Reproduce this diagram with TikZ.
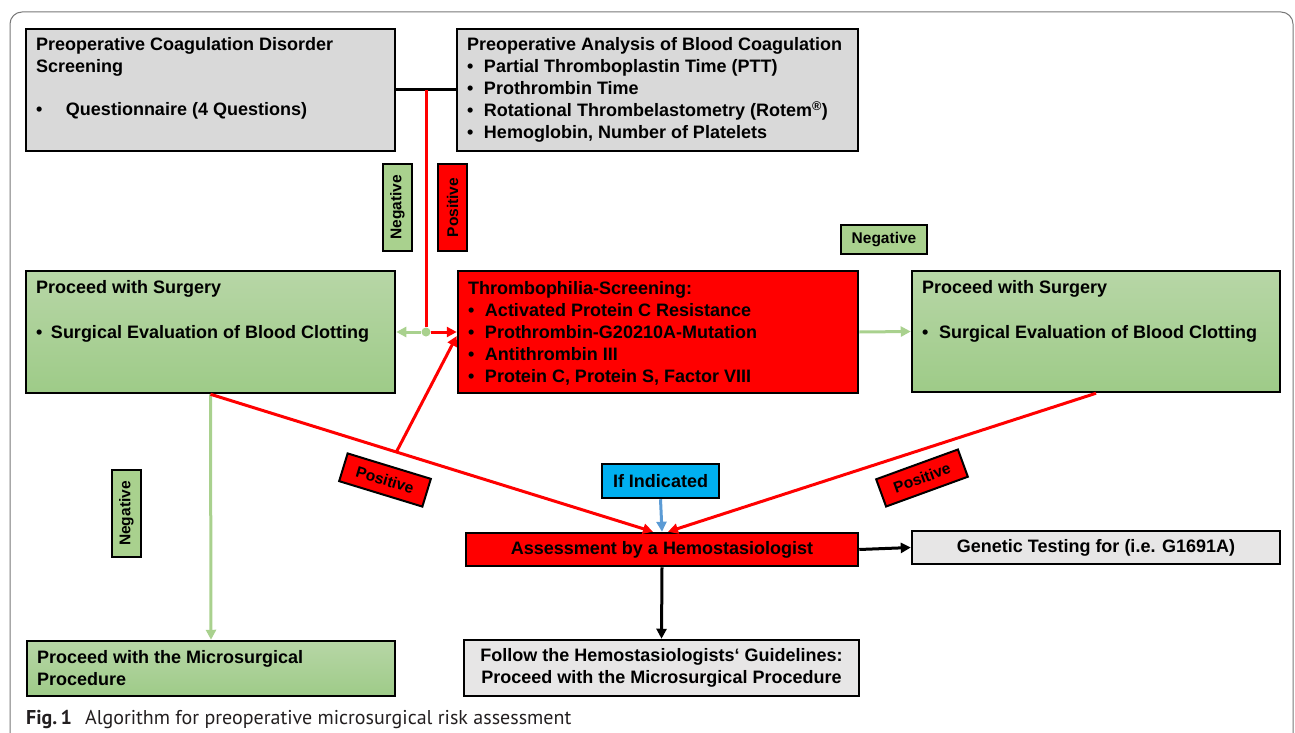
\documentclass[tikz,border=0pt]{standalone}
\usepackage{fontspec}
\setmainfont{Liberation Sans}
\newfontfamily\capfont{PT Sans}
\usetikzlibrary{arrows.meta,calc}
\definecolor{gbox}{RGB}{217,217,217}
\definecolor{lbox}{RGB}{231,230,230}
\definecolor{redA}{RGB}{255,0,0}
\definecolor{gtop}{RGB}{183,214,166}
\definecolor{gbot}{RGB}{158,203,136}
\definecolor{glab}{RGB}{169,209,142}
\definecolor{garr}{RGB}{169,209,142}
\definecolor{cyanA}{RGB}{0,176,240}
\definecolor{barr}{RGB}{91,155,213}
\definecolor{frameC}{RGB}{120,120,120}
\definecolor{capC}{RGB}{35,31,32}
\newcommand{\tb}[3]{\begin{minipage}[c][#2][t]{#1}\setlength{\leftskip}{10pt}\setlength{\parindent}{0pt}#3\end{minipage}}
\newcommand{\bl}[1]{\makebox[#1][l]{•}}
\tikzset{
  boxbase/.style={draw=black, line width=2.5pt, inner sep=0pt, font=\fontsize{18}{22}\selectfont\bfseries},
  graybox/.style={boxbase, fill=gbox},
  greenbox/.style={boxbase, top color=gtop, bottom color=gbot},
  redbox/.style={boxbase, fill=redA},
  lightbox/.style={boxbase, fill=lbox},
  labbase/.style={draw=black, line width=2pt, inner sep=0pt, minimum width=87pt, minimum height=29pt, font=\fontsize{15.5}{18}\selectfont\bfseries},
  neglab/.style={labbase, fill=glab},
  poslab/.style={labbase, fill=redA},
  tip/.style={-{Triangle[length=10pt,width=10pt]}},
  redl/.style={draw=redA, line width=3pt},
  grnl/.style={draw=garr, line width=3pt},
  blkl/.style={draw=black, line width=3pt},
  bluel/.style={draw=barr, line width=3pt},
}
\begin{document}
\begin{tikzpicture}[x=1pt,y=-1pt]
\useasboundingbox (0,0) rectangle (1295,733);
\draw[frameC, line width=1pt, rounded corners=12pt] (10,760) -- (10,12) -- (1293,12) -- (1293,760);

\node[graybox] (b1) at (210.5,90) {\tb{369pt}{122pt}{\rule{0pt}{22pt}Preoperative Coagulation Disorder\\Screening\\[21pt]\bl{30pt}Questionnaire (4 Questions)}};
\node[graybox] (b2) at (657.5,90) {\tb{401pt}{122pt}{\rule{0pt}{22pt}Preoperative Analysis of Blood Coagulation\\
\bl{17pt}Partial Thromboplastin Time (PTT)\\
\bl{17pt}Prothrombin Time\\
\bl{17pt}Rotational Thrombelastometry (Rotem\textsuperscript{®})\\
\bl{17pt}Hemoglobin, Number of Platelets}};
\node[greenbox] (b3) at (210.5,332) {\tb{369pt}{122pt}{\rule{0pt}{22pt}Proceed with Surgery\\[23pt]\bl{15pt}Surgical Evaluation of Blood Clotting}};
\node[redbox] (thr) at (658,332) {\tb{400pt}{122pt}{\rule{0pt}{23pt}Thrombophilia-Screening:\\
\bl{17pt}Activated Protein C Resistance\\
\bl{17pt}Prothrombin-G20210A-Mutation\\
\bl{17pt}Antithrombin III\\
\bl{17pt}Protein C, Protein S, Factor VIII}};
\node[greenbox] (b5) at (1096,331.5) {\tb{368pt}{121pt}{\rule{0pt}{22pt}Proceed with Surgery\\[23pt]\bl{17pt}Surgical Evaluation of Blood Clotting}};
\node[greenbox] (micro) at (211,668.5) {\tb{368pt}{55pt}{\rule{0pt}{22pt}Proceed with the Microsurgical\\Procedure}};
\node[boxbase, fill=cyanA, minimum width=117pt, minimum height=34pt] (ifi) at (660.5,481) {If Indicated};
\node[redbox, minimum width=392pt, minimum height=33pt] (ass) at (662,549.5) {Assessment by a Hemostasiologist};
\node[lightbox, minimum width=395pt, minimum height=56pt, align=center] (fol) at (661.5,668) {Follow the Hemostasiologists‘ Guidelines:\\Proceed with the Microsurgical Procedure};
\node[lightbox, minimum width=368pt, minimum height=33pt] (gen) at (1096,547.5) {Genetic Testing for (i.e. G1691A)};

\coordinate (jt) at (426,90);
\node[circle, fill=garr, inner sep=0pt, minimum size=9pt] (dot) at (426,332) {};

\draw[blkl] (b1.east) -- (b2.west);
\draw[redl] (jt) -- (dot.north);
\draw[redl, tip] (dot.east) -- (thr.west);
\draw[grnl, tip] (dot.west) -- (b3.east);
\draw[grnl, tip] (thr.east) -- (b5.west);
\draw[grnl, tip] (b3.south) -- (micro.north);
\draw[redl, tip] (b3.south) -- ([xshift=-9pt]ass.north);
\draw[redl, tip] (b5.south) -- ([xshift=6pt]ass.north);
\coordinate (br) at ($(b3.south)!0.42!([xshift=-9pt]ass.north)$);
\draw[redl, tip] (br) -- ([yshift=-4pt]thr.west);
\draw[bluel, tip] (ifi.south) -- (ass.north);
\draw[blkl, tip] (ass.south) -- (fol.north);
\draw[blkl, tip] (ass.east) -- (gen.west);

\node[neglab, rotate=90] (n1) at (397.5,207.5) {Negative};
\node[poslab, rotate=90] (p1) at (452.5,207.5) {Positive};
\node[neglab, minimum width=86pt] (n2) at (884,239.5) {Negative};
\node[neglab, rotate=90] (n3) at (126.5,513.5) {Negative};
\node[poslab, rotate=-17] (p2) at (385,480) {Positive};
\node[poslab, rotate=20] (p3) at (922,478) {Positive};

\node[anchor=base west, font=\capfont\fontsize{20}{24}\selectfont, text=capC, inner sep=0pt] (cap) at (26,724) {\textbf{Fig.\,1}\hspace{13pt}Algorithm for preoperative microsurgical risk assessment};
\end{tikzpicture}
\end{document}
